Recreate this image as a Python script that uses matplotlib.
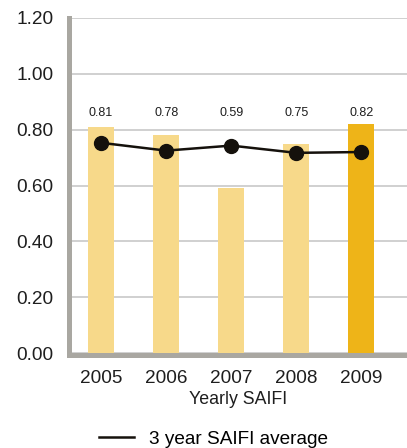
import matplotlib.pyplot as plt
from matplotlib.lines import Line2D

plt.rcParams['font.family'] = ['Liberation Sans', 'DejaVu Sans']

# SAIFI data by year
years = ['2005', '2006', '2007', '2008', '2009']
yearly_saifi = [0.81, 0.78, 0.59, 0.75, 0.82]
avg_3yr = [0.753, 0.725, 0.743, 0.717, 0.720]
y_ticks = [0.0, 0.2, 0.4, 0.6, 0.8, 1.0, 1.2]

light = '#F7D98A'
dark = '#EEB418'
spine_gray = '#A9A7A1'
text_col = '#1e1e1e'

fig = plt.figure(figsize=(4.07, 4.48), dpi=100)
ax = fig.add_axes([68.5 / 407, 1 - 355 / 448, 1 - 68.5 / 407, (355 - 18) / 448])

x = range(len(years))
colors = [light] * (len(years) - 1) + [dark]
ax.bar(x, yearly_saifi, width=0.4, color=colors, zorder=2)

# value labels sit on a common row above the bars
for i, v in enumerate(yearly_saifi):
    ax.text(i, 0.86, f'{v:.2f}', ha='center', va='center', fontsize=9, color=text_col)

ax.plot(x, avg_3yr, color='#15110c', lw=1.8, marker='o', markersize=10, zorder=3)

ax.set_xlim(-0.5, 4.7)
ax.set_ylim(-0.007, 1.2)
ax.set_yticks(y_ticks)
ax.set_yticklabels([f'{t:.2f}' for t in y_ticks], fontsize=13.7, color=text_col)
ax.set_xticks(list(x))
ax.set_xticklabels(years, fontsize=13.7, color=text_col)
ax.tick_params(axis='y', length=0, pad=11)
ax.tick_params(axis='x', length=0, pad=11)
ax.set_xlabel('Yearly SAIFI', fontsize=12.8, color=text_col, labelpad=3)

ax.grid(axis='y', color='#C8C8C8', lw=1.2, zorder=0)
ax.set_axisbelow(True)
for s in ['top', 'right']:
    ax.spines[s].set_visible(False)
for s in ['left', 'bottom']:
    ax.spines[s].set_color(spine_gray)
    ax.spines[s].set_linewidth(3.6)

handle = Line2D([], [], color='#15110c', lw=1.8)
fig.legend(handles=[handle], labels=['3 year SAIFI average'], loc='center left',
           bbox_to_anchor=(82 / 407, 1 - 439 / 448), frameon=False, fontsize=13.7,
           handlelength=1.85, handletextpad=0.75)

fig.savefig('out.png', dpi=100)
